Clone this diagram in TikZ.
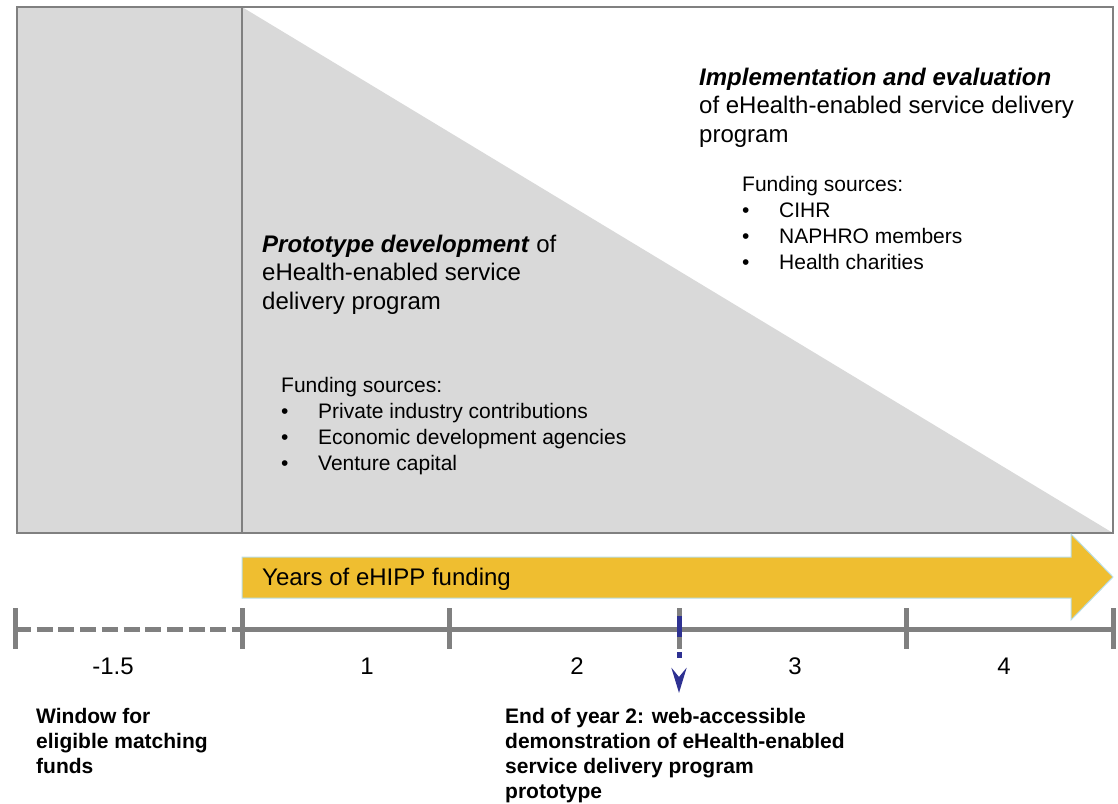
\documentclass[tikz,border=0pt]{standalone}
\usepackage{fontspec}
\setmainfont{Liberation Sans}
\usetikzlibrary{arrows.meta}
\definecolor{boxgray}{RGB}{217,217,217}
\definecolor{linegray}{RGB}{128,128,128}
\definecolor{fundyellow}{RGB}{239,190,48}
\definecolor{fundedge}{RGB}{183,222,232}
\definecolor{markblue}{RGB}{46,49,146}
\newcommand{\fundbullet}[1]{\makebox[37pt][l]{\textbullet}#1}

\begin{document}
\begin{tikzpicture}[line join=miter,x=1pt,y=-1pt,
  heading/.style={anchor=base west,inner sep=0pt,align=left,font=\fontsize{24}{28.5}\selectfont},
  funding/.style={anchor=base west,inner sep=0pt,align=left,font=\fontsize{21}{25.7}\selectfont},
  note/.style={anchor=base west,inner sep=0pt,align=left,font=\bfseries\fontsize{21}{25}\selectfont},
  yearlabel/.style={anchor=base,inner sep=0pt,font=\fontsize{24}{28}\selectfont},
  axisline/.style={line width=5pt,color=linegray},
  axistick/.style={line width=5pt,color=linegray}]
\useasboundingbox (0,0) rectangle (1118,803);
%\clip (0,0) rectangle (1118,803);
% panels
\fill [boxgray] (17,7) rectangle (242,533);
\fill [boxgray] (242,7) -- (1113,533) -- (242,533) -- cycle;
\draw [linegray,line width=2pt] (17,7) rectangle (1113,533);
\draw [linegray,line width=2pt] (242,7) -- (242,533);
% multi-line texts sit on the baseline of their last line
\node[heading] (proto) at (262,309) {\textbf{\textit{Prototype development}} of\\eHealth-enabled service\\delivery program};
\node[funding] (protofund) at (281,470) {Funding sources:\\\fundbullet{Private industry contributions}\\\fundbullet{Economic development agencies}\\\fundbullet{Venture capital}};
\node[heading] (impl) at (699,142) {\textbf{\textit{Implementation and evaluation}}\\of eHealth-enabled service delivery\\program};
\node[funding] (implfund) at (742,269) {Funding sources:\\\fundbullet{CIHR}\\\fundbullet{NAPHRO members}\\\fundbullet{Health charities}};
% funding arrow
\draw [fundedge,fill=fundyellow,line width=1pt] (242,557) -- (1071,557) -- (1071,534) -- (1113,577) -- (1071,620) -- (1071,598) -- (242,598) -- cycle;
\node[heading] (years) at (262,585) {Years of eHIPP funding};
% time axis
\coordinate (t0) at (15,629);
\coordinate (t1) at (242,629);
\coordinate (t5) at (1113,629);
\draw [axisline,dash pattern=on 16pt off 5.7pt] (t0) -- (t1);
\draw [axisline] (t1) -- (t5);
\foreach \x in {15,242,449,679,906,1113}
  \draw [axistick] (\x,608) -- (\x,649);
\node[yearlabel] (yr0) at (113,674) {-1.5};
\node[yearlabel] (yr1) at (367,674) {1};
\node[yearlabel] (yr2) at (577,674) {2};
\node[yearlabel] (yr3) at (795,674) {3};
\node[yearlabel] (yr4) at (1004,674) {4};
% end of year 2 marker
\coordinate (mtop) at (679,616);
\coordinate (mbot) at (679,693);
\draw [markblue,line width=5pt,dash pattern=on 21pt off 15pt on 6pt off 40pt,-{Stealth[length=25pt,width=15pt,inset=9pt]}] (mtop) -- (mbot);
\node[note] (window) at (36,773) {Window for\\eligible matching\\funds};
\node[note] (demo) at (505,798) {End of year 2: web-accessible\\demonstration of eHealth-enabled\\service delivery program\\prototype};
\end{tikzpicture}
\end{document}
